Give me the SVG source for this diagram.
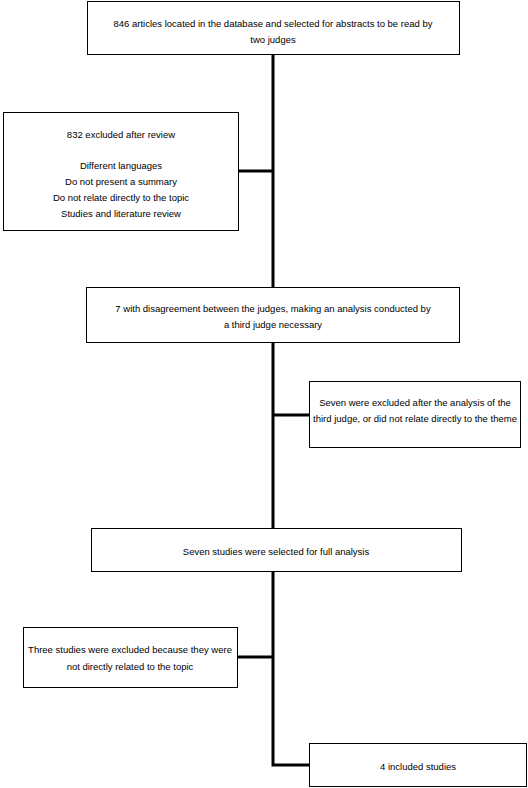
<svg xmlns="http://www.w3.org/2000/svg" width="528" height="788" viewBox="0 0 528 788">
<style>
.box{fill:#fff;stroke:#000;stroke-width:1}
.t{font-family:"Liberation Sans",Arial,sans-serif;font-size:9.5px;fill:#000;text-anchor:middle}
.c{stroke:#000;stroke-width:3;fill:none}
</style>
<rect width="528" height="788" fill="#fff"/>
<g id="connectors">
<path class="c" d="M273 54V765H309"/>
<path class="c" d="M238 171H273"/>
<path class="c" d="M273 415H309"/>
<path class="c" d="M238 657H273"/>
</g>
<g id="n1">
<rect class="box" x="87.5" y="1.5" width="372" height="53"/>
<text class="t" x="273" y="27">846 articles located in the database and selected for abstracts to be read by</text>
<text class="t" x="273" y="43">two judges</text>
</g>
<g id="n2">
<rect class="box" x="3.5" y="112.5" width="235" height="118"/>
<text class="t" x="121" y="138">832 excluded after review</text>
<text class="t" x="121" y="169">Different languages</text>
<text class="t" x="121" y="185">Do not present a summary</text>
<text class="t" x="121" y="201">Do not relate directly to the topic</text>
<text class="t" x="121" y="217">Studies and literature review</text>
</g>
<g id="n3">
<rect class="box" x="86.5" y="287.5" width="373" height="55"/>
<text class="t" x="273" y="312">7 with disagreement between the judges, making an analysis conducted by</text>
<text class="t" x="273" y="328">a third judge necessary</text>
</g>
<g id="n4">
<rect class="box" x="309.5" y="381.5" width="211" height="66"/>
<text class="t" x="415" y="406">Seven were excluded after the analysis of the</text>
<text class="t" x="415" y="422">third judge, or did not relate directly to the theme</text>
</g>
<g id="n5">
<rect class="box" x="91.5" y="528.5" width="370" height="43"/>
<text class="t" x="276" y="555">Seven studies were selected for full analysis</text>
</g>
<g id="n6">
<rect class="box" x="23.5" y="627.5" width="214" height="60"/>
<text class="t" x="130" y="653">Three studies were excluded because they were</text>
<text class="t" x="130" y="670">not directly related to the topic</text>
</g>
<g id="n7">
<rect class="box" x="309.5" y="743.5" width="217" height="43"/>
<text class="t" x="418" y="770">4 included studies</text>
</g>
</svg>
